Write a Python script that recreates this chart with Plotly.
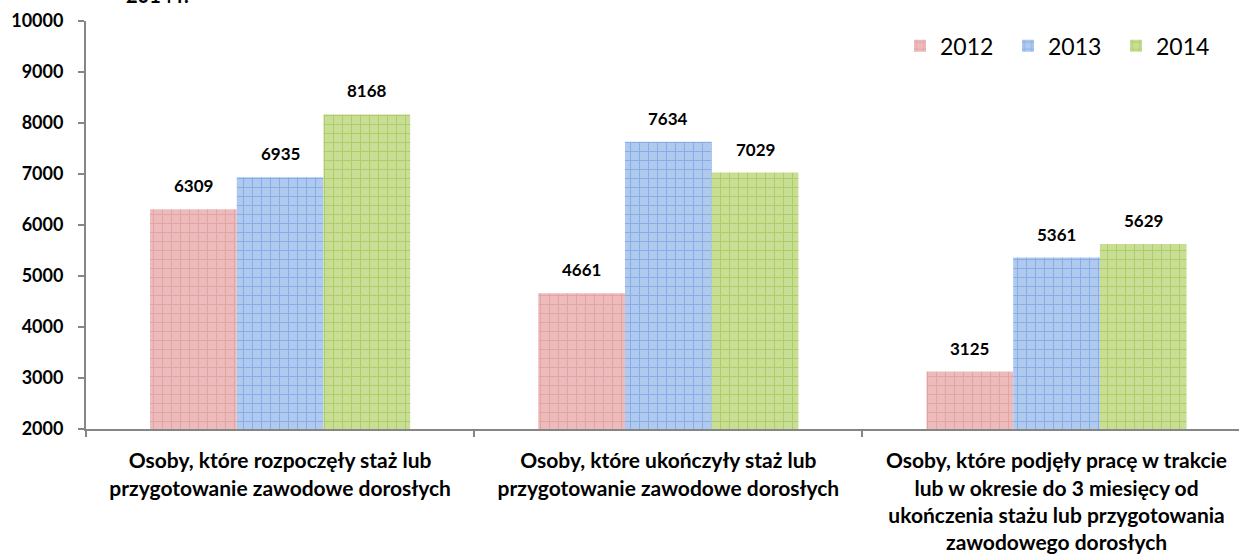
import plotly.graph_objects as go

categories = [
    "Osoby, które rozpoczęły staż lub<br>przygotowanie zawodowe dorosłych",
    "Osoby, które ukończyły staż lub<br>przygotowanie zawodowe dorosłych",
    "Osoby, które podjęły pracę w trakcie<br>lub w okresie do 3 miesięcy od<br>ukończenia stażu lub przygotowania<br>zawodowego dorosłych",
]
years = ["2012", "2013", "2014"]
values_2012 = [6309, 4661, 3125]
values_2013 = [6935, 7634, 5361]
values_2014 = [8168, 7029, 5629]
series = [values_2012, values_2013, values_2014]
y_ticks = [2000, 3000, 4000, 5000, 6000, 7000, 8000, 9000, 10000]
title_text = "2014 r."

bg_colors = ["#EDBBBB", "#AFC9EF", "#C8DE94"]
fg_colors = ["#D98E8E", "#5F92DC", "#97B83E"]

FONT = "Lato"
fig = go.Figure()
bargap = 0.33
bw = (1 - bargap) / 3
for i, (yr, vals) in enumerate(zip(years, series)):
    fig.add_trace(go.Bar(
        name=yr, x=categories, y=vals,
        marker=dict(color=bg_colors[i], line=dict(width=0),
                    pattern=dict(shape="+", fgcolor=fg_colors[i], bgcolor=bg_colors[i],
                                 size=9, solidity=0.22)),
    ))
    for j, v in enumerate(vals):
        fig.add_annotation(x=j + (i - 1) * bw, y=v, xref="x", yref="y", text=f"<b>{v}</b>",
                           showarrow=False, yanchor="bottom", yshift=11,
                           font=dict(family=FONT, size=17, color="#000000"))

fig.add_annotation(x=0.0616, xref="paper", xanchor="center", y=1, yref="paper",
                   text="<b>" + title_text + "</b>",
                   showarrow=False, yanchor="bottom", yshift=12,
                   font=dict(family=FONT, size=20, color="#000000"))

fig.update_layout(
    width=1239, height=558,
    margin=dict(l=86, r=0, t=21, b=129),
    paper_bgcolor="white", plot_bgcolor="white",
    barmode="group", bargap=bargap, bargroupgap=0,
    font=dict(family=FONT, color="#000000"),
    showlegend=True,
    legend=dict(orientation="h", x=0.706, y=0.992, xanchor="left", yanchor="top",
                font=dict(family=FONT, size=23, color="#000000"),
                bgcolor="rgba(0,0,0,0)", itemwidth=30, entrywidth=63, traceorder="normal"),
    xaxis=dict(
        type="category", categoryorder="array", categoryarray=categories,
        ticktext=[f"<b>{c}</b>" for c in categories], tickvals=categories,
        range=[-0.5, 2.47], showline=True, linecolor="#868686", linewidth=2,
        ticks="outside", tickson="boundaries", ticklen=6, tickcolor="#868686", tickwidth=2,
        tickfont=dict(family=FONT, size=21, color="#000000"), showgrid=False, zeroline=False,
        ticklabelstandoff=12, automargin=False,
    ),
    yaxis=dict(
        range=[2000, 10000], tickvals=y_ticks, ticktext=[f"<b>{v}</b>" for v in y_ticks],
        showline=True, linecolor="#868686", linewidth=2,
        ticks="outside", ticklen=6, tickcolor="#868686", tickwidth=2, showgrid=False, zeroline=False,
        tickfont=dict(family=FONT, size=18, color="#000000"),
        ticklabelstandoff=11, automargin=False,
    ),
)
fig.write_html("out.html", config={"displayModeBar": False},
               post_script="document.body.style.margin='0';document.body.style.overflow='hidden';")
